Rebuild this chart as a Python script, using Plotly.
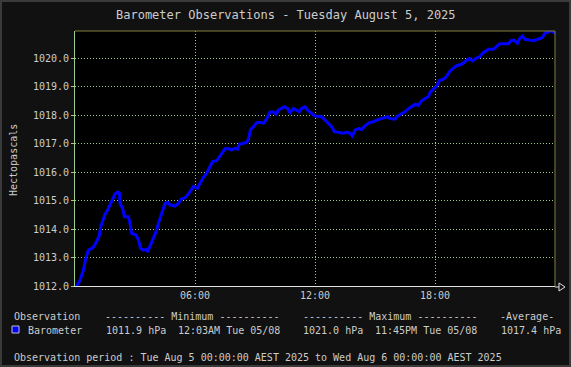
import plotly.graph_objects as go

# ---- data (hours since midnight, hPa) ----
hours = [0.05, 0.08, 0.25, 0.42, 0.55, 0.67, 0.83, 0.92, 1.08, 1.22, 1.28, 1.42, 1.5, 1.63, 1.75,
         1.88, 2.0, 2.13, 2.22, 2.25, 2.38, 2.47, 2.67, 2.75, 2.83, 3.05, 3.17, 3.28, 3.42, 3.58,
         3.63, 3.75, 3.88, 4.05, 4.17, 4.28, 4.42, 4.5, 4.63, 4.75, 5.0, 5.17, 5.3, 5.5, 5.67,
         5.83, 5.92, 6.12, 6.25, 6.42, 6.58, 6.72, 6.88, 7.08, 7.22, 7.38, 7.5, 7.72, 7.83, 8.0,
         8.13, 8.22, 8.42, 8.58, 8.67, 8.72, 8.78, 8.92, 9.08, 9.25, 9.42, 9.55, 9.67, 9.75, 9.92,
         10.05, 10.17, 10.33, 10.47, 10.62, 10.75, 10.92, 11.08, 11.22, 11.33, 11.5, 11.63, 11.75,
         11.92, 12.0, 12.33, 12.5, 12.67, 12.83, 12.97, 13.17, 13.42, 13.58, 13.75, 13.87, 14.0,
         14.17, 14.33, 14.5, 14.72, 14.92, 15.08, 15.28, 15.5, 15.63, 15.75, 16.0, 16.12, 16.33,
         16.5, 16.67, 16.83, 17.0, 17.17, 17.33, 17.5, 17.67, 17.75, 17.92, 18.08, 18.22, 18.42,
         18.58, 18.72, 18.88, 19.08, 19.33, 19.55, 19.72, 19.88, 20.05, 20.25, 20.38, 20.67,
         20.92, 21.08, 21.22, 21.5, 21.67, 21.8, 21.95, 22.12, 22.22, 22.37, 22.5, 22.75, 22.95,
         23.17, 23.37, 23.5, 23.67, 23.75, 23.88, 24.0]
pressure = [1011.95, 1012.0, 1012.2, 1012.56, 1013.0, 1013.26, 1013.32, 1013.36, 1013.56, 1013.79,
            1014.08, 1014.32, 1014.52, 1014.67, 1014.87, 1015.05, 1015.23, 1015.30, 1015.26, 1014.9,
            1014.73, 1014.43, 1014.43, 1014.2, 1013.85, 1013.79, 1013.62, 1013.32, 1013.26, 1013.29,
            1013.2, 1013.4, 1013.62, 1013.9, 1014.2, 1014.43, 1014.79, 1014.9, 1014.94, 1014.85,
            1014.81, 1014.9, 1015.05, 1015.1, 1015.23, 1015.4, 1015.5, 1015.43, 1015.6, 1015.82,
            1015.96, 1016.13, 1016.37, 1016.4, 1016.54, 1016.68, 1016.82, 1016.82, 1016.78, 1016.84,
            1016.81, 1016.98, 1017.0, 1017.04, 1017.16, 1017.39, 1017.5, 1017.6, 1017.74, 1017.75,
            1017.72, 1017.83, 1017.97, 1018.11, 1018.11, 1018.04, 1018.18, 1018.24, 1018.3, 1018.24,
            1018.09, 1018.24, 1018.18, 1018.12, 1018.24, 1018.3, 1018.18, 1018.12, 1018.04, 1017.97,
            1017.95, 1017.83, 1017.69, 1017.6, 1017.42, 1017.4, 1017.37, 1017.4, 1017.37, 1017.27,
            1017.48, 1017.53, 1017.5, 1017.63, 1017.74, 1017.77, 1017.83, 1017.87, 1017.92, 1017.95,
            1017.88, 1017.86, 1017.97, 1018.04, 1018.12, 1018.23, 1018.3, 1018.38, 1018.35, 1018.51,
            1018.59, 1018.65, 1018.8, 1018.9, 1019.02, 1019.22, 1019.27, 1019.36, 1019.53, 1019.63,
            1019.74, 1019.79, 1019.91, 1020.0, 1019.91, 1020.0, 1020.06, 1020.18, 1020.32, 1020.32,
            1020.41, 1020.5, 1020.51, 1020.51, 1020.62, 1020.64, 1020.53, 1020.68, 1020.78, 1020.67,
            1020.64, 1020.62, 1020.68, 1020.73, 1020.89, 1020.92, 1020.98, 1020.92, 1020.87]

x_tick_vals = [6, 12, 18]
x_tick_text = ["06:00", "12:00", "18:00"]
y_tick_vals = [1012, 1013, 1014, 1015, 1016, 1017, 1018, 1019, 1020]
y_tick_text = ["%.1f" % v for v in y_tick_vals]

title_text = "Barometer Observations - Tuesday August 5, 2025"
header_cols = ["Observation", "---------- Minimum ----------",
               "---------- Maximum ----------", "-Average-"]
row_cols = ["Barometer", "1011.9 hPa", "12:03AM Tue 05/08", "1021.0 hPa",
            "11:45PM Tue 05/08", "1017.4 hPa"]
period_text = "Observation period : Tue Aug 5 00:00:00 AEST 2025 to Wed Aug 6 00:00:00 AEST 2025"

# ---- layout geometry (pixels) ----
W, H = 571, 367
L, R, T, B = 75, 555, 31, 286


def px(x):
    return (x - L) / (R - L)


def py(y):
    return (B - y) / (B - T)


FONT = "DejaVu Sans Mono"
TXT = "#cccccc"
GRID = "#9ccc8c"
OLIVE = "#80803c"
DOT = "1px,2px"

fig = go.Figure()
fig.add_trace(go.Scatter(x=hours, y=pressure, mode="lines",
                         line=dict(color="#0000ff", width=3), showlegend=False,
                         hoverinfo="skip"))

fig.update_layout(
    width=W, height=H,
    margin=dict(l=L, r=W - R, t=T, b=H - B, pad=0),
    paper_bgcolor="#111111", plot_bgcolor="#000000",
    font=dict(family=FONT, size=10, color=TXT),
    showlegend=False,
)
fig.update_xaxes(range=[0, 24], tickvals=x_tick_vals, ticktext=x_tick_text,
                 showgrid=True, gridcolor=GRID, griddash=DOT, gridwidth=1,
                 showline=True, linecolor="#e0e0e0", linewidth=1,
                 ticks="", zeroline=False, tickfont=dict(family=FONT, size=10, color=TXT))
fig.update_yaxes(range=[1012, 1020.96], tickvals=y_tick_vals, ticktext=y_tick_text,
                 showgrid=True, gridcolor=GRID, griddash=DOT, gridwidth=1,
                 showline=True, linecolor=GRID, linewidth=1,
                 ticks="outside", ticklen=3, tickcolor=GRID,
                 zeroline=False, tickfont=dict(family=FONT, size=10, color=TXT))

shapes = [
    # top and right olive border
    dict(type="line", xref="paper", yref="paper", x0=0, x1=1, y0=1, y1=1,
         line=dict(color=OLIVE, width=1)),
    dict(type="line", xref="paper", yref="paper", x0=1, x1=1, y0=0, y1=1,
         line=dict(color=OLIVE, width=1)),
    # x axis arrow
    dict(type="line", xref="paper", yref="paper", x0=px(555), x1=px(560), y0=py(287), y1=py(287),
         line=dict(color="#e0e0e0", width=1)),
    dict(type="path", xref="paper", yref="paper",
         path="M %f %f L %f %f L %f %f Z" % (px(559), py(283), px(565), py(287), px(559), py(291)),
         line=dict(color="#e0e0e0", width=1), fillcolor="#111111"),
    # legend swatch
    dict(type="rect", xref="paper", yref="paper", x0=px(12), x1=px(19), y0=py(333), y1=py(326),
         line=dict(color="#c0c0c0", width=1), fillcolor="#0000ff"),
    # outer frame
    dict(type="rect", xref="paper", yref="paper", x0=px(1), x1=px(570), y0=py(366), y1=py(1),
         line=dict(color="#3a3a3a", width=2), fillcolor="rgba(0,0,0,0)"),
]
fig.update_layout(shapes=shapes)


def ann(text, x, y, xanchor="left", size=10, angle=0):
    fig.add_annotation(text=text, xref="paper", yref="paper", x=px(x), y=py(y),
                       xanchor=xanchor, yanchor="middle", showarrow=False, textangle=angle,
                       font=dict(family=FONT, size=size, color=TXT))


ann(title_text, 286, 15, xanchor="center", size=12)
ann("Hectopascals", 13, 160, xanchor="center", angle=-90)

header_x = [12, 103, 301, 498]
for t, x in zip(header_cols, header_x):
    ann(t, x, 316)
row_x = [26, 104, 176, 301, 373, 499]
for t, x in zip(row_cols, row_x):
    ann(t, x, 330)
ann(period_text, 12, 358)

fig.write_html(
    "out.html",
    config={"displayModeBar": False, "staticPlot": True},
    post_script="document.body.style.margin='0';document.body.style.padding='0';"
                "document.body.style.overflow='hidden';document.body.style.background='#111111';",
)
